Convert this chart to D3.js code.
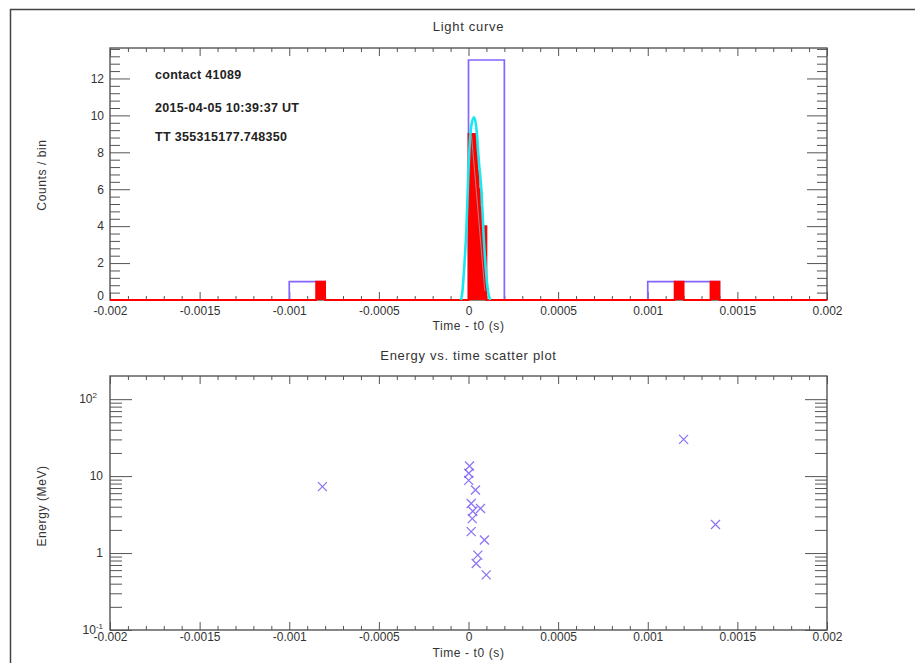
<!DOCTYPE html>
<head>
  <meta charset="utf-8">
  <title>Light curve</title>
  <style>
    body { margin: 0; background: #fff; }
    text {
      font-family: "Liberation Sans", Arial, sans-serif;
      font-size: 12px;
      fill: #333;
    }
    .bold { font-weight: bold; fill: #222; font-size: 12.5px; letter-spacing: 0.3px; }
    .ttl { font-size: 13px; letter-spacing: 0.7px; }
    .lab { font-size: 12px; letter-spacing: 0.6px; }
  </style>
</head>

<body>
  <script src="https://d3js.org/d3.v7.min.js"></script>
  <script>
  const W = 915, H = 663;

  // x ticks (shared by both panels)
  const xMajor = [-0.002, -0.0015, -0.001, -0.0005, 0, 0.0005, 0.001, 0.0015, 0.002];
  const xLabels = ["-0.002", "-0.0015", "-0.001", "-0.0005", "0", "0.0005", "0.001", "0.0015", "0.002"];
  const yCountMajor = [0, 2, 4, 6, 8, 10, 12];

  // coarse light curve (purple), step points: time, counts
  const coarseT = [-0.002, -0.001, -0.0008, 0, 0.0002, 0.001, 0.0012, 0.0014, 0.002];
  const coarseN = [0, 1, 0, 13, 0, 1, 1, 0, 0];

  // fine light curve (red), step points
  const fineT = [-0.002, -0.00085, -0.0008, 0, 0.000042, 0.00005, 0.000057, 0.000064, 0.000072, 0.0001, 0.00115, 0.0012, 0.00135, 0.0014, 0.002];
  const fineN = [0, 1, 0, 9, 8, 7, 6, 5, 4, 0, 1, 0, 1, 0, 0];

  // smooth curve (cyan)
  const fitT = [-0.000042, -0.000036, -0.000021, -0.000011, -0.000002, 0.000007, 0.000021, 0.000032, 0.000045, 0.000057, 0.000073, 0.000085, 0.000097, 0.00011, 0.000122];
  const fitN = [0, 0.3, 2.2, 4, 6.6, 8.5, 9.7, 9.9, 9.2, 7.6, 5.8, 3.4, 1.6, 0.4, 0];

  // faint grey line inside the peak
  const greyT = [0.000017, 0.000091];
  const greyN = [8.9, 0.5];

  // events: time - t0 (s), energy (MeV)
  const eventT = [-0.000815, 0.0000056, 0.0000017, 0.000001, 0.000039, 0.000015, 0.000067, 0.000024, 0.000021, 0.000015, 0.000089, 0.000052, 0.000043, 0.000099, 0.0012, 0.001378];
  const eventE = [7.3, 13.5, 10.9, 8.8, 6.6, 4.4, 3.8, 3.5, 2.8, 1.9, 1.48, 0.94, 0.73, 0.52, 30, 2.35];

  const infoLines = ["contact 41089", "2015-04-05 10:39:37 UT", "TT 355315177.748350"];

  const L = 110, R = 827;
  const top1 = 48, bot1 = 300;
  const top2 = 376, bot2 = 630;

  const purple = "#8466ff", red = "#ff0000", cyan = "#19e8f0", axisCol = "#555";

  const svg = d3.select("body").append("svg")
    .attr("width", W)
    .attr("height", H);

  svg.append("rect")
    .attr("x", 10.5).attr("y", 9.5)
    .attr("width", 920).attr("height", 700)
    .attr("fill", "none").attr("stroke", "#444").attr("stroke-width", 1.5);

  const x = d3.scaleLinear().domain([-0.002, 0.002]).range([L, R]);
  const y1 = d3.scaleLinear().domain([0, 13.65]).range([bot1, top1]);
  const y2 = d3.scaleLog().domain([0.1, 200]).range([bot2, top2]);

  const xMinor = d3.range(-0.002, 0.00201, 0.0001).filter(v => !xMajor.some(m => Math.abs(m - v) < 1e-9));

  function tidy(g) {
    g.select(".domain").remove();
    g.selectAll(".tick line").attr("stroke", axisCol);
  }

  function frame(top, bot) {
    svg.append("rect")
      .attr("x", L).attr("y", top).attr("width", R - L).attr("height", bot - top)
      .attr("fill", "none").attr("stroke", axisCol).attr("stroke-width", 1.4);
  }

  function xAxes(top, bot, pad) {
    svg.append("g").attr("transform", `translate(0,${bot})`)
      .call(d3.axisBottom(x).tickValues(xMajor).tickSize(-8).tickPadding(pad)
        .tickFormat((d, i) => xLabels[i]))
      .call(tidy)
      .call(g => g.selectAll("text").attr("fill", "#333").style("font-size", "12px"));
    svg.append("g").attr("transform", `translate(0,${bot})`)
      .call(d3.axisBottom(x).tickValues(xMinor).tickSize(-4).tickFormat(""))
      .call(tidy);
    svg.append("g").attr("transform", `translate(0,${top})`)
      .call(d3.axisTop(x).tickValues(xMajor).tickSize(-8).tickFormat(""))
      .call(tidy);
    svg.append("g").attr("transform", `translate(0,${top})`)
      .call(d3.axisTop(x).tickValues(xMinor).tickSize(-4).tickFormat(""))
      .call(tidy);
  }

  // ---------- top panel: light curve ----------
  const yMinor1 = d3.range(0, 13.7, 0.4).filter(v => Math.abs(v / 2 - Math.round(v / 2)) > 1e-6);

  frame(top1, bot1);
  xAxes(top1, bot1, 6);

  svg.append("g").attr("transform", `translate(${L},0)`)
    .call(d3.axisLeft(y1).tickValues(yCountMajor).tickSize(-20).tickPadding(6))
    .call(tidy)
    .call(g => g.selectAll("text").attr("fill", "#333").style("font-size", "12px")
      .attr("dy", d => d === 0 ? "-0.05em" : "0.32em"));
  svg.append("g").attr("transform", `translate(${L},0)`)
    .call(d3.axisLeft(y1).tickValues(yMinor1).tickSize(-10).tickFormat(""))
    .call(tidy);
  svg.append("g").attr("transform", `translate(${R},0)`)
    .call(d3.axisRight(y1).tickValues(yCountMajor).tickSize(-20).tickFormat(""))
    .call(tidy);
  svg.append("g").attr("transform", `translate(${R},0)`)
    .call(d3.axisRight(y1).tickValues(yMinor1).tickSize(-10).tickFormat(""))
    .call(tidy);

  const step = d3.line().curve(d3.curveStepAfter).x(d => x(d[0])).y(d => y1(d[1]));

  svg.append("path")
    .datum(coarseT.map((t, i) => [t, coarseN[i]]))
    .attr("d", step)
    .attr("fill", "none").attr("stroke", purple).attr("stroke-width", 1.7);

  const fineData = fineT.map((t, i) => [t, fineN[i]]);
  svg.append("path")
    .datum(fineData)
    .attr("d", d3.area().curve(d3.curveStepAfter).x(d => x(d[0])).y0(y1(0)).y1(d => y1(d[1])))
    .attr("fill", red);
  svg.append("path")
    .datum(fineData)
    .attr("d", step)
    .attr("fill", "none").attr("stroke", red).attr("stroke-width", 1.8);

  svg.append("path")
    .datum(fitT.map((t, i) => [t, fitN[i]]))
    .attr("d", d3.line().curve(d3.curveMonotoneX).x(d => x(d[0])).y(d => y1(d[1])))
    .attr("fill", "none").attr("stroke", cyan).attr("stroke-width", 2.6);

  svg.append("path")
    .datum(greyT.map((t, i) => [t, greyN[i]]))
    .attr("d", d3.line().x(d => x(d[0])).y(d => y1(d[1])))
    .attr("fill", "none").attr("stroke", "#a08a8a").attr("stroke-width", 1);

  svg.append("text").attr("class", "ttl").attr("x", (L + R) / 2).attr("y", 31)
    .attr("text-anchor", "middle").text("Light curve");
  svg.append("text").attr("class", "lab").attr("x", (L + R) / 2).attr("y", 330)
    .attr("text-anchor", "middle").text("Time - t0 (s)");
  svg.append("text").attr("class", "lab").attr("transform", "translate(46,175) rotate(-90)")
    .attr("text-anchor", "middle").text("Counts / bin");

  svg.selectAll(".info").data(infoLines).enter().append("text")
    .attr("class", "bold")
    .attr("x", 155)
    .attr("y", (d, i) => [79, 112, 141][i])
    .text(d => d);

  // ---------- bottom panel: energy vs time ----------
  const yLogMajor = [0.1, 1, 10, 100];
  const yLogMinor = [];
  [0.1, 1, 10].forEach(b => d3.range(2, 10).forEach(k => yLogMinor.push(b * k)));

  frame(top2, bot2);
  xAxes(top2, bot2, 2);

  [[d3.axisLeft, L], [d3.axisRight, R]].forEach(([ax, pos]) => {
    svg.append("g").attr("transform", `translate(${pos},0)`)
      .call(ax(y2).tickValues(yLogMajor).tickSize(-22).tickFormat(""))
      .call(tidy);
    svg.append("g").attr("transform", `translate(${pos},0)`)
      .call(ax(y2).tickValues(yLogMinor).tickSize(-12).tickFormat(""))
      .call(tidy);
  });

  const logLab = [
    { v: 100, base: "10", sup: "2", x: 97 },
    { v: 10, base: "10", sup: "", x: 103 },
    { v: 1, base: "1", sup: "", x: 103 },
    { v: 0.1, base: "10", sup: "-1", x: 103 }
  ];
  logLab.forEach(d => {
    const t = svg.append("text")
      .attr("x", d.x).attr("y", y2(d.v) + 4)
      .attr("text-anchor", "end");
    t.append("tspan").text(d.base);
    if (d.sup) t.append("tspan").attr("dy", -5).style("font-size", "8px").text(d.sup);
  });

  svg.selectAll(".evt").data(eventT.map((t, i) => [t, eventE[i]])).enter().append("path")
    .attr("transform", d => `translate(${x(d[0])},${y2(d[1])})`)
    .attr("d", "M-4.5,-4.5L4.5,4.5M-4.5,4.5L4.5,-4.5")
    .attr("stroke", "#7a5cf2").attr("stroke-width", 1.3).attr("fill", "none")
    .attr("opacity", 0.85);

  svg.append("text").attr("class", "ttl").attr("x", (L + R) / 2).attr("y", 360)
    .attr("text-anchor", "middle").text("Energy vs. time scatter plot");
  svg.append("text").attr("class", "lab").attr("x", (L + R) / 2).attr("y", 657)
    .attr("text-anchor", "middle").text("Time - t0 (s)");
  svg.append("text").attr("class", "lab").attr("transform", "translate(46,506) rotate(-90)")
    .attr("text-anchor", "middle").text("Energy (MeV)");
  </script>
</body>
</html>
